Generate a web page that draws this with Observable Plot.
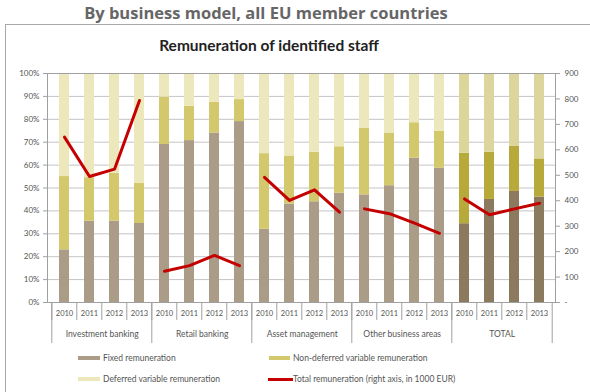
<!DOCTYPE html>
<html>
<head>
<meta charset="utf-8">
<script src="https://cdn.jsdelivr.net/npm/d3@7"></script>
<script src="https://cdn.jsdelivr.net/npm/@observablehq/plot@0.6"></script>
<style>
  html, body { margin: 0; padding: 0; background: #fff; }
  #wrap { position: relative; width: 590px; height: 392px; overflow: hidden; font-family: Lato, sans-serif; }
  #heading { position: absolute; left: 0; top: 1px; width: 532px; text-align: center; font-family: "Open Sans", sans-serif; font-weight: 700; font-size: 16.5px; color: #666; }
  #box { position: absolute; left: 5px; top: 24px; width: 590px; height: 380px; border: 1px solid #a8a8a8; box-sizing: border-box; }
  #title { position: absolute; left: 0; top: 36px; width: 538px; text-align: center; font-family: Lato, sans-serif; font-weight: 700; font-size: 15.5px; color: #222; }
  #chart { position: absolute; left: 0; top: 0; }
  .lg { position: absolute; font-size: 8.5px; color: #555; font-family: Lato, sans-serif; line-height: 10px; }
  .sw { position: absolute; }
</style>
</head>
<body>
<div id="wrap">
  <div id="heading">By business model, all EU member countries</div>
  <div id="box"></div>
  <div id="title">Remuneration of identified staff</div>
  <div id="chart"></div>
  <div id="legend"></div>
</div>
<script>
const groups = ["Investment banking", "Retail banking", "Asset management", "Other business areas", "TOTAL"];
const years = ["2010", "2011", "2012", "2013"];
// shares in % of total remuneration
const fixedShare = [23, 35.5, 35.5, 34.5, 69, 70.7, 74, 79, 32, 43, 44, 47.7, 47, 51, 63, 58.6, 34.4, 45, 48.5, 46];
const nonDeferredTop = [55, 54.5, 56.5, 52, 89.7, 85.7, 87.5, 88.6, 65, 64, 65.6, 68, 76, 74, 78.5, 74.7, 65.2, 65.6, 68.3, 62.7];
// total remuneration, right axis, in 1000 EUR
const totalRem = [650, 495, 524, 794, 123, 145, 185, 145, 492, 401, 443, 355, 368, 349, 312, 272, 407, 345, 368, 390];
const leftTicks = [0, 10, 20, 30, 40, 50, 60, 70, 80, 90, 100];
const rightTicks = [0, 100, 200, 300, 400, 500, 600, 700, 800, 900];
const rightMax = 900;
const seriesNames = ["Fixed remuneration", "Non-deferred variable remuneration", "Deferred variable remuneration", "Total remuneration (right axis, in 1000 EUR)"];

const colors = {
  fixed: "#ab9c88", fixedT: "#8c7a5e",
  nondef: "#d3c86c", nondefT: "#b8aa3a",
  def: "#ede8bb", defT: "#ddd69c",
  line: "#c40000"
};

const rows = [];
groups.forEach((g, gi) => years.forEach((y, yi) => {
  const i = gi * 4 + yi;
  rows.push({group: g, year: y, key: g + "|" + y, i});
}));
const keys = rows.map(r => r.key);

const bars = [];
rows.forEach(r => {
  const t = r.group === "TOTAL" ? "T" : "";
  const f = fixedShare[r.i], n = nonDeferredTop[r.i];
  bars.push({key: r.key, comp: "fixed" + t, value: f});
  bars.push({key: r.key, comp: "nondef" + t, value: n - f});
  bars.push({key: r.key, comp: "def" + t, value: 100 - n});
});
const toPct = v => v / rightMax * 100;
const lineData = rows.map(r => ({key: r.key, group: r.group, total: totalRem[r.i]}));

const W = 590, H = 350;
const mL = 47, mR = 35, mT = 73, mB = 48;
const step = (W - mL - mR) / keys.length;

const firstKeys = rows.filter(r => r.year === "2010").map(r => r.key);
const secondKeys = rows.filter(r => r.year === "2011").map(r => r.key);
const lastKey = keys[keys.length - 1];
const compKeys = Object.keys(colors).filter(k => k !== "line");

const chart = Plot.plot({
  width: W, height: H,
  marginLeft: mL, marginRight: mR, marginTop: mT, marginBottom: mB,
  style: {fontFamily: "Lato, sans-serif", fontSize: "8px", background: "transparent", color: "#555"},
  x: {domain: keys, paddingInner: 0.6, paddingOuter: 0.3, axis: null, label: null},
  y: {domain: [0, 100], axis: null, label: null},
  color: {domain: compKeys, range: compKeys.map(k => colors[k])},
  marks: [
    Plot.ruleY(leftTicks, {stroke: "#c4c4c4", strokeWidth: 1}),
    Plot.barY(bars, {x: "key", y: "value", fill: "comp"}),
    Plot.line(lineData, {x: "key", y: d => toPct(d.total), z: "group", stroke: colors.line, strokeWidth: 3, strokeLinejoin: "round"}),
    Plot.frame({stroke: "#a0a0a0", strokeWidth: 1}),
    Plot.axisY({anchor: "left", label: null, ticks: leftTicks, tickFormat: d => d + "%", tickSize: 4, tickPadding: 4, stroke: "#a0a0a0", fill: "#555", fontSize: 8}),
    Plot.axisY({anchor: "right", label: null, ticks: rightTicks.map(toPct), tickFormat: d => { const v = Math.round(d * rightMax / 100); return v === 0 ? "-" : String(v); }, tickSize: 4, tickPadding: 5, stroke: "#a0a0a0", fill: "#555", fontSize: 8}),
    // year labels
    Plot.axisX({anchor: "bottom", label: null, tickFormat: k => k.split("|")[1], tickSize: 0, tickPadding: 8, fill: "#555", fontSize: 7.5}),
    // year separators
    Plot.axisX({anchor: "bottom", label: null, ticks: keys, tickFormat: () => "", tickSize: 18, dx: -step / 2, stroke: "#a0a0a0"}),
    // group separators
    Plot.axisX({anchor: "bottom", label: null, ticks: firstKeys, tickFormat: () => "", tickSize: 41, dx: -step / 2, stroke: "#a0a0a0"}),
    Plot.axisX({anchor: "bottom", label: null, ticks: [lastKey], tickFormat: () => "", tickSize: 41, dx: step / 2, stroke: "#a0a0a0"}),
    // group labels
    Plot.axisX({anchor: "bottom", label: null, ticks: secondKeys, tickFormat: k => k.split("|")[0], tickSize: 0, tickPadding: 28, dx: step / 2, fill: "#555", fontSize: 8.5})
  ]
});
document.getElementById("chart").appendChild(chart);

// legend
const legend = document.getElementById("legend");
const items = [
  {name: seriesNames[0], color: colors.fixed, sx: 78, sw: 22, sh: 4, tx: 103, cy: 358},
  {name: seriesNames[1], color: colors.nondef, sx: 269, sw: 21, sh: 4, tx: 293, cy: 358},
  {name: seriesNames[2], color: colors.def, sx: 78, sw: 22, sh: 4, tx: 103, cy: 379},
  {name: seriesNames[3], color: colors.line, sx: 268, sw: 25, sh: 3, tx: 293, cy: 379}
];
items.forEach(it => {
  const s = document.createElement("div");
  s.className = "sw";
  s.style.left = it.sx + "px"; s.style.top = (it.cy - it.sh / 2) + "px";
  s.style.width = it.sw + "px"; s.style.height = it.sh + "px";
  s.style.background = it.color;
  legend.appendChild(s);
  const t = document.createElement("div");
  t.className = "lg";
  t.style.left = it.tx + "px"; t.style.top = (it.cy - 5) + "px";
  t.textContent = it.name;
  legend.appendChild(t);
});
</script>
</body>
</html>
